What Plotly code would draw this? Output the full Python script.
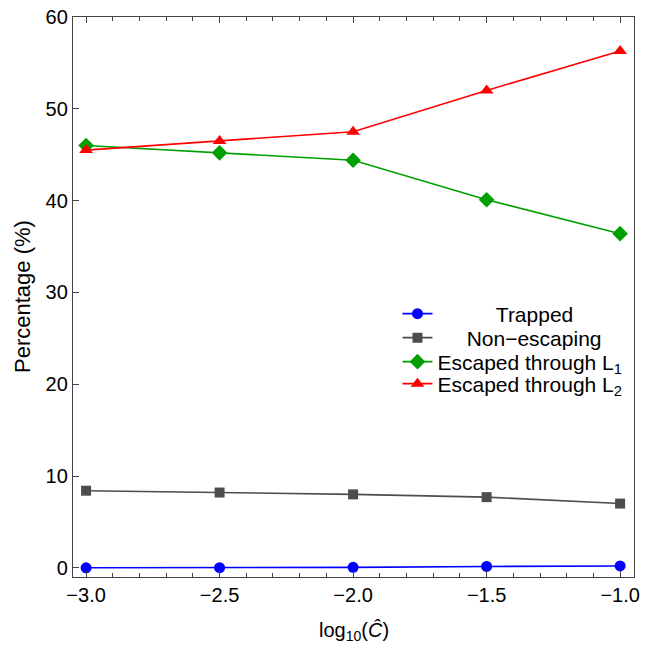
import plotly.graph_objects as go

x_vals = [-3.0, -2.5, -2.0, -1.5, -1.0]
trapped = [0.0, 0.02, 0.05, 0.15, 0.2]
non_escaping = [8.4, 8.2, 8.0, 7.7, 7.0]
escaped_l1 = [46.0, 45.2, 44.4, 40.1, 36.4]
escaped_l2 = [45.5, 46.5, 47.5, 52.0, 56.3]

x_ticks = [-3.0, -2.5, -2.0, -1.5, -1.0]
x_ticklabels = ["\u22123.0", "\u22122.5", "\u22122.0", "\u22121.5", "\u22121.0"]
y_ticks = [0, 10, 20, 30, 40, 50, 60]
x_title = "log<sub>10</sub>(<i>\u0108</i>)"
y_title = "Percentage (%)"

series = [
    ("Trapped", trapped, "#0000FF", "circle", 11, 10, "legend", 0.4696),
    ("Non\u2212escaping", non_escaping, "#4D4D4D", "square", 10, 5, "legend2", 0.4268),
    ("Escaped through L<sub>1</sub>", escaped_l1, "#00A000", "diamond", 12, 0, "legend3", 0.3839),
    ("Escaped through L<sub>2</sub>", escaped_l2, "#FF0000", "triangle-up", 12, 0, "legend4", 0.3446),
]

FONT = "Liberation Sans, Arial, sans-serif"
AXC = "#444444"

fig = go.Figure()
legends = {}
for name, vals, color, sym, size, pad, lg, ly in series:
    fig.add_trace(go.Scatter(
        x=x_vals, y=vals, mode="lines+markers",
        name="\u00a0" * pad + name,
        legend=lg,
        line=dict(color=color, width=1.6),
        marker=dict(symbol=sym, size=size, color=color, line=dict(width=0)),
    ))
    legends[lg] = dict(x=0.5784, y=ly, xanchor="left", yanchor="middle",
                       bgcolor="rgba(0,0,0,0)", font=dict(size=21, family=FONT, color="black"),
                       itemwidth=30)

fig.update_layout(
    width=659, height=646,
    margin=dict(l=73, r=25, t=17, b=69, autoexpand=False),
    paper_bgcolor="white", plot_bgcolor="white",
    font=dict(family=FONT, size=20, color="black"),
    showlegend=True,
    xaxis=dict(
        range=[-3.049, -0.948], tickvals=x_ticks, ticktext=x_ticklabels,
        automargin=False, ticklabeloverflow="allow",
        showgrid=False, zeroline=False, showline=True, linecolor=AXC, linewidth=1.3,
        mirror="allticks", ticks="inside", ticklen=6, tickcolor=AXC, tickwidth=1,
        minor=dict(ticks="inside", dtick=0.1, tick0=-3.0, ticklen=3.5, tickcolor=AXC, showgrid=False),
        tickfont=dict(size=20),
    ),
    yaxis=dict(
        range=[-1.0, 60.0], tickvals=y_ticks,
        automargin=False, ticklabeloverflow="allow",
        showgrid=False, zeroline=False, showline=True, linecolor=AXC, linewidth=1.3,
        mirror=True, ticks="inside", ticklen=6, tickcolor=AXC, tickwidth=1,
        tickfont=dict(size=20),
    ),
    yaxis2=dict(
        overlaying="y", side="right", anchor="x", matches="y",
        automargin=False,
        range=[-1.0, 60.0], tickvals=y_ticks, showticklabels=False,
        showgrid=False, zeroline=False, showline=False,
        ticks="inside", ticklen=6, tickcolor=AXC, tickwidth=1,
        minor=dict(ticks="inside", dtick=2, tick0=0, ticklen=3.5, tickcolor=AXC, showgrid=False),
    ),
    annotations=[
        dict(text=x_title, xref="paper", yref="paper", x=0.5, y=0, xanchor="center",
             yanchor="middle", yshift=-54, showarrow=False, font=dict(size=20, family=FONT)),
        dict(text=y_title, xref="paper", yref="paper", x=0, y=0.5, xanchor="center",
             yanchor="middle", xshift=-51, textangle=-90, showarrow=False,
             font=dict(size=22, family=FONT)),
    ],
    **legends,
)

fig.write_html("out.html", config={"displayModeBar": False},
               post_script="document.body.style.margin='0';")
